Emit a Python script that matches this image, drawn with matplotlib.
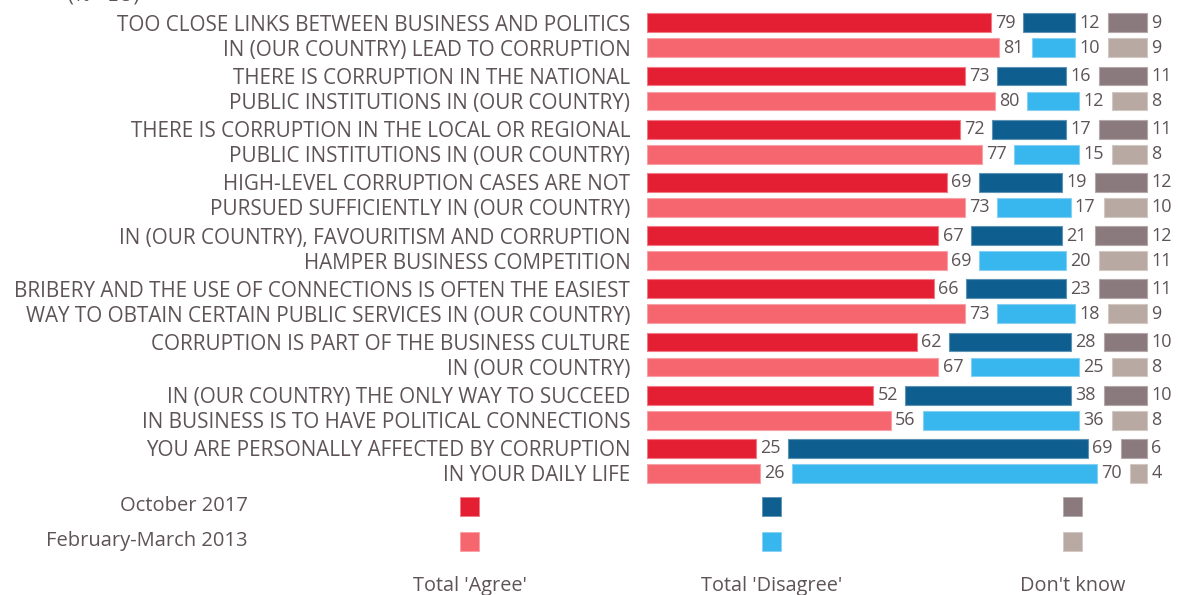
import matplotlib

matplotlib.use("Agg")
import matplotlib.pyplot as plt
from matplotlib.patches import Rectangle

# statements (two lines each)
statements = [
    ("TOO CLOSE LINKS BETWEEN BUSINESS AND POLITICS", "IN (OUR COUNTRY) LEAD TO CORRUPTION"),
    ("THERE IS CORRUPTION IN THE NATIONAL", "PUBLIC INSTITUTIONS IN (OUR COUNTRY)"),
    ("THERE IS CORRUPTION IN THE LOCAL OR REGIONAL", "PUBLIC INSTITUTIONS IN (OUR COUNTRY)"),
    ("HIGH-LEVEL CORRUPTION CASES ARE NOT", "PURSUED SUFFICIENTLY IN (OUR COUNTRY)"),
    ("IN (OUR COUNTRY), FAVOURITISM AND CORRUPTION", "HAMPER BUSINESS COMPETITION"),
    ("BRIBERY AND THE USE OF CONNECTIONS IS OFTEN THE EASIEST",
     "WAY TO OBTAIN CERTAIN PUBLIC SERVICES IN (OUR COUNTRY)"),
    ("CORRUPTION IS PART OF THE BUSINESS CULTURE", "IN (OUR COUNTRY)"),
    ("IN (OUR COUNTRY) THE ONLY WAY TO SUCCEED", "IN BUSINESS IS TO HAVE POLITICAL CONNECTIONS"),
    ("YOU ARE PERSONALLY AFFECTED BY CORRUPTION", "IN YOUR DAILY LIFE"),
]
waves = ["October 2017", "February-March 2013"]
answers = ["Total 'Agree'", "Total 'Disagree'", "Don't know"]

agree_2017 = [79, 73, 72, 69, 67, 66, 62, 52, 25]
disagree_2017 = [12, 16, 17, 19, 21, 23, 28, 38, 69]
dk_2017 = [9, 11, 11, 12, 12, 11, 10, 10, 6]
agree_2013 = [81, 80, 77, 73, 69, 73, 67, 56, 26]
disagree_2013 = [10, 12, 15, 17, 20, 18, 25, 36, 70]
dk_2013 = [9, 8, 8, 10, 11, 9, 8, 8, 4]

colors = {
    "October 2017": ["#E41F33", "#0E5F8F", "#8A7A7D"],
    "February-March 2013": ["#F5666F", "#38B6EE", "#B8A9A2"],
}
edges = {
    "October 2017": ["#F07A86", "#5E93B5", "#B3A8AA"],
    "February-March 2013": ["#F9A0A6", "#86D1F3", "#D3C9C4"],
}
TXT = "#5E5457"
plt.rcParams["font.family"] = ["Open Sans", "DejaVu Sans"]

GAP = 7.4      # room for the agree/disagree value label
RIGHT = 115.0  # right edge of the "don't know" bars
OFF = 0.235    # half distance between the two waves
H = 0.357

fig = plt.figure(figsize=(11.79, 5.95), dpi=100)
ax = fig.add_axes([647 / 1179, 1 - 490 / 595, 532 / 1179, 490 / 595])

series = {
    "October 2017": (agree_2017, disagree_2017, dk_2017, -OFF),
    "February-March 2013": (agree_2013, disagree_2013, dk_2013, OFF),
}
for w, (ag, dis, dk, dy) in series.items():
    c, e = colors[w], edges[w]
    for i in range(len(statements)):
        y = i + dy
        ax.barh(y, ag[i], left=0, height=H, color=c[0], edgecolor=e[0], lw=0.8)
        start = ag[i] + GAP
        ax.barh(y, dis[i], left=start, height=H, color=c[1], edgecolor=e[1], lw=0.8)
        ax.barh(y, dk[i], left=RIGHT - dk[i], height=H, color=c[2], edgecolor=e[2], lw=0.8)
        for xv, v in [(ag[i], ag[i]), (start + dis[i], dis[i]), (RIGHT, dk[i])]:
            ax.annotate(str(v), (xv, y), xytext=(3, 0), textcoords="offset points",
                        ha="left", va="center", fontsize=13, color=TXT)

ticks, labels = [], []
for i, (l1, l2) in enumerate(statements):
    ticks += [i - OFF, i + OFF]
    labels += [l1, l2]
ax.set_yticks(ticks)
ax.set_yticklabels(labels, fontsize=14.9, color=TXT)
ax.tick_params(axis="y", length=0, pad=12)
ax.set_xticks([])
ax.set_xlim(0, 532 / 4.35)
ax.set_ylim(8.547, -0.6635)
for s in ax.spines.values():
    s.set_visible(False)

# legend block at the bottom
W, Hh = 1179, 595
sq_x = [460, 762, 1063]
sq_y = [497, 532]
for r, w in enumerate(waves):
    fig.text(248 / W, 1 - (sq_y[r] + 9) / Hh, w, ha="right", va="center",
             fontsize=14.5, color=TXT)
    for k in range(3):
        fig.patches.append(Rectangle((sq_x[k] / W, 1 - (sq_y[r] + 19) / Hh), 19 / W, 19 / Hh,
                                     transform=fig.transFigure, color=colors[w][k],
                                     ec=edges[w][k], lw=0.6))
for k, a in enumerate(answers):
    fig.text((sq_x[k] + 10) / W, 1 - 586 / Hh, a, ha="center", va="center",
             fontsize=14.3, color=TXT)

# title line cut off at the top edge, as in the source
fig.text(68 / W, 1 - 6 / Hh, "(% - EU)", ha="left", va="bottom", fontsize=14.5, color=TXT)

fig.savefig("out.png", dpi=100)
